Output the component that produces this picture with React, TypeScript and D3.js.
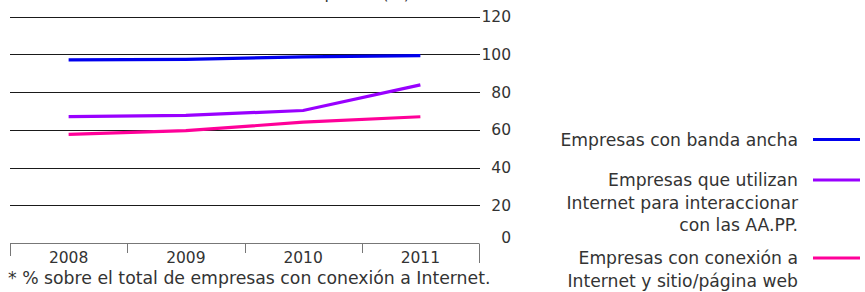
import React, { useEffect, useRef } from "react"
import * as d3 from "d3"

const years = ["2008", "2009", "2010", "2011"]
const yTicks = [0, 20, 40, 60, 80, 100, 120]

const seriesNames = [
  ["Empresas con banda ancha"],
  ["Empresas que utilizan", "Internet para interaccionar", "con las AA.PP."],
  ["Empresas con conexión a", "Internet y sitio/página web"],
]
const seriesColors = ["#0000ee", "#9900ff", "#ff0099"]
const bandaAncha = [97.0, 97.3, 98.6, 99.3]
const interaccionAAPP = [67.0, 67.6, 70.2, 83.8]
const sitioWeb = [57.5, 59.5, 64.0, 66.9]
const allSeries = [bandaAncha, interaccionAAPP, sitioWeb]

const title = "Indicadores TIC en las empresas (%)"
const footnote = "* % sobre el total de empresas con conexión a Internet."

const W = 865
const H = 292
const FONT = "'DejaVu Sans', sans-serif"
const INK = "#333"

export default function App() {
  const ref = useRef<SVGSVGElement>(null)

  useEffect(() => {
    const svg = d3.select(ref.current!)
    svg.selectAll("*").remove()

    const left = 10
    const right = 479
    const y = d3.scaleLinear().domain([0, 120]).range([243, 16.5])
    const x = d3.scaleBand().domain(years).range([left, right])
    const cx = (d: string) => x(d)! + x.bandwidth() / 2

    // title, mostly cut off at top (as in the source)
    svg
      .append("text")
      .attr("x", 410)
      .attr("y", -1)
      .attr("text-anchor", "end")
      .attr("font-family", FONT)
      .attr("font-size", 16)
      .attr("fill", INK)
      .text(title)

    // gridlines
    svg
      .append("g")
      .selectAll("line")
      .data(yTicks.filter((t) => t > 0))
      .join("line")
      .attr("x1", left)
      .attr("x2", right + 1)
      .attr("y1", (d) => Math.round(y(d)) + 0.5)
      .attr("y2", (d) => Math.round(y(d)) + 0.5)
      .attr("stroke", "#1a1a1a")
      .attr("stroke-width", 1.2)

    // right axis labels
    svg
      .append("g")
      .selectAll("text")
      .data(yTicks)
      .join("text")
      .attr("x", 511)
      .attr("y", (d) => y(d) + (d === 0 ? 0 : 5.5))
      .attr("text-anchor", "end")
      .attr("font-family", FONT)
      .attr("font-size", 15.5)
      .attr("fill", INK)
      .text((d) => d)

    // category axis box
    const y0 = Math.round(y(0)) + 0.5
    const ax = svg.append("g").attr("stroke", "#777").attr("stroke-width", 1)
    ax.append("line").attr("x1", left).attr("x2", right).attr("y1", y0).attr("y2", y0)
    const bounds = years.map((d) => x(d)!).concat([right])
    ax.selectAll("line.tick")
      .data(bounds)
      .join("line")
      .attr("class", "tick")
      .attr("x1", (d) => Math.round(d) + 0.5)
      .attr("x2", (d) => Math.round(d) + 0.5)
      .attr("y1", y0)
      .attr("y2", (d, i) => (i === 0 ? 256 : i === bounds.length - 1 ? 263 : 253))

    svg
      .append("g")
      .selectAll("text")
      .data(years)
      .join("text")
      .attr("x", cx)
      .attr("y", 263)
      .attr("text-anchor", "middle")
      .attr("font-family", FONT)
      .attr("font-size", 15.5)
      .attr("fill", INK)
      .text((d) => d)

    // footnote
    svg
      .append("text")
      .attr("x", 8)
      .attr("y", 284)
      .attr("font-family", FONT)
      .attr("font-size", 17.3)
      .attr("fill", INK)
      .text(footnote)

    // lines
    const line = d3
      .line<number>()
      .x((_, i) => cx(years[i]))
      .y((d) => y(d))
    svg
      .append("g")
      .selectAll("path")
      .data(allSeries)
      .join("path")
      .attr("d", (d) => line(d))
      .attr("fill", "none")
      .attr("stroke", (_, i) => seriesColors[i])
      .attr("stroke-width", 3.2)

    // legend
    const legendY = [139.5, 180, 258]
    const lg = svg
      .append("g")
      .selectAll("g")
      .data(seriesNames)
      .join("g")
      .attr("transform", (_, i) => `translate(0,${legendY[i]})`)
    lg.append("line")
      .attr("x1", 813)
      .attr("x2", 860)
      .attr("y1", 0)
      .attr("y2", 0)
      .attr("stroke", (_, i) => seriesColors[i])
      .attr("stroke-width", 3.2)
    lg.each(function (names) {
      d3.select(this)
        .selectAll("text")
        .data(names)
        .join("text")
        .attr("x", 798)
        .attr("y", (_, j) => 6 + j * 22.7)
        .attr("text-anchor", "end")
        .attr("font-family", FONT)
        .attr("font-size", 17.2)
        .attr("fill", INK)
        .text((t) => t)
    })
  }, [])

  return (
    <svg
      ref={ref}
      width={W}
      height={H}
      style={{ position: "absolute", left: 0, top: 0, background: "#fff" }}
    />
  )
}
